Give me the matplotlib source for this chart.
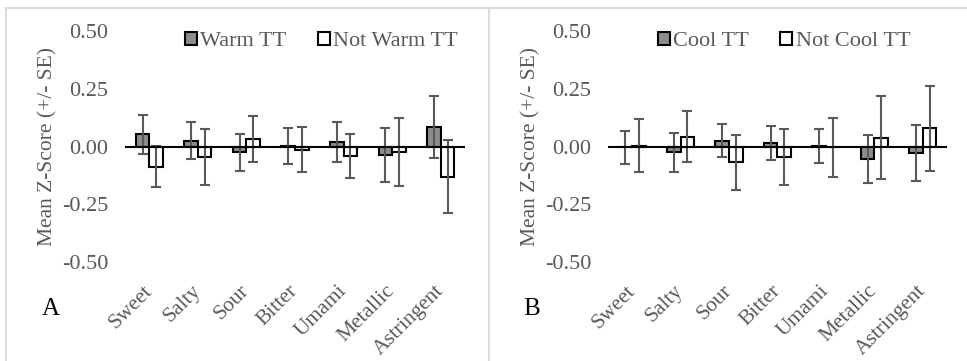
import matplotlib
matplotlib.use("Agg")
import matplotlib.pyplot as plt
import numpy as np
from matplotlib.patches import Patch
from matplotlib.lines import Line2D

plt.rcParams['font.family'] = ['Liberation Serif', 'DejaVu Serif']

categories = ["Sweet", "Salty", "Sour", "Bitter", "Umami", "Metallic", "Astringent"]

# Panel A: warm vs not-warm thermal tasters
warm_mean = [0.052, 0.026, -0.025, 0.003, 0.020, -0.036, 0.084]
warm_se = [0.085, 0.078, 0.080, 0.077, 0.087, 0.117, 0.133]
notwarm_mean = [-0.087, -0.046, 0.032, -0.014, -0.040, -0.023, -0.130]
notwarm_se = [0.090, 0.122, 0.099, 0.097, 0.096, 0.148, 0.158]

# Panel B: cool vs not-cool thermal tasters
cool_mean = [-0.003, -0.025, 0.026, 0.016, 0.003, -0.055, -0.029]
cool_se = [0.072, 0.085, 0.070, 0.073, 0.074, 0.105, 0.120]
notcool_mean = [0.003, 0.043, -0.069, -0.046, -0.003, 0.039, 0.078]
notcool_se = [0.115, 0.109, 0.120, 0.120, 0.127, 0.178, 0.183]

yticks = [-0.50, -0.25, 0.00, 0.25, 0.50]

TEXT_GRAY = "#595959"
FILL_GRAY = "#8c8c8c"

fig = plt.figure(figsize=(9.67, 3.61), dpi=100)


def draw_panel(ax, m1, s1, m2, s2, names, leg_x):
    x = np.arange(len(categories))
    w = 0.28
    ax.bar(x - w / 2, m1, w, color=FILL_GRAY, edgecolor="black", linewidth=1.5, zorder=2)
    ax.bar(x + w / 2, m2, w, color="white", edgecolor="black", linewidth=1.5, zorder=2)
    ax.errorbar(x - w / 2, m1, yerr=s1, fmt="none", ecolor=TEXT_GRAY,
                elinewidth=1.5, capsize=3.5, capthick=1.5, zorder=3)
    ax.errorbar(x + w / 2, m2, yerr=s2, fmt="none", ecolor=TEXT_GRAY,
                elinewidth=1.5, capsize=3.5, capthick=1.5, zorder=3)
    ax.axhline(0, color="black", linewidth=1.5, zorder=4)
    ax.set_xlim(-0.5, len(categories) - 0.5)
    ax.set_ylim(-0.5, 0.5)
    ax.set_yticks(yticks)
    ax.set_yticklabels([f"{v:.2f}" for v in yticks])
    ax.set_xticks(x)
    ax.set_xticklabels(categories, rotation=45, ha="right", va="center",
                       rotation_mode="anchor")
    for sp in ax.spines.values():
        sp.set_visible(False)
    ax.tick_params(axis="y", length=0, pad=12, labelsize=16, labelcolor=TEXT_GRAY)
    ax.tick_params(axis="x", length=0, pad=19, labelsize=15.5, labelcolor=TEXT_GRAY)
    ax.set_ylabel("Mean Z-Score (+/- SE)", fontsize=15.5, color=TEXT_GRAY, labelpad=3.5)
    handles = [Patch(facecolor=FILL_GRAY, edgecolor="black", linewidth=1.5),
               Patch(facecolor="white", edgecolor="black", linewidth=1.5)]
    leg = ax.legend(handles, names, loc="center", bbox_to_anchor=(leg_x, 0.955),
                    ncol=2, frameon=False, fontsize=16, handlelength=0.55,
                    handleheight=0.55, handletextpad=0.15, columnspacing=1.4,
                    borderaxespad=0)
    for t in leg.get_texts():
        t.set_color(TEXT_GRAY)


axA = fig.add_axes([0.1293, 0.2742, 0.3516, 0.6399])
draw_panel(axA, warm_mean, warm_se, notwarm_mean, notwarm_se,
           ["Warm TT", "Not Warm TT"], 0.578)
axB = fig.add_axes([0.6287, 0.2742, 0.3506, 0.6399])
draw_panel(axB, cool_mean, cool_se, notcool_mean, notcool_se,
           ["Cool TT", "Not Cool TT"], 0.519)

fig.text(51 / 967, 1 - 309 / 361, "A", fontsize=18, color="black", ha="center", va="center")
fig.text(532 / 967, 1 - 309 / 361, "B", fontsize=18, color="black", ha="center", va="center")

# light frame around the two chart areas
frame = "#dcdcdc"
fig.add_artist(Line2D([6 / 967, 1], [1 - 8 / 361] * 2, color=frame, linewidth=1.5,
                      transform=fig.transFigure))
fig.add_artist(Line2D([6 / 967] * 2, [0, 1 - 8 / 361], color=frame, linewidth=1.5,
                      transform=fig.transFigure))
fig.add_artist(Line2D([489 / 967] * 2, [0, 1 - 8 / 361], color=frame, linewidth=1.5,
                      transform=fig.transFigure))

fig.savefig("out.png", dpi=100)
